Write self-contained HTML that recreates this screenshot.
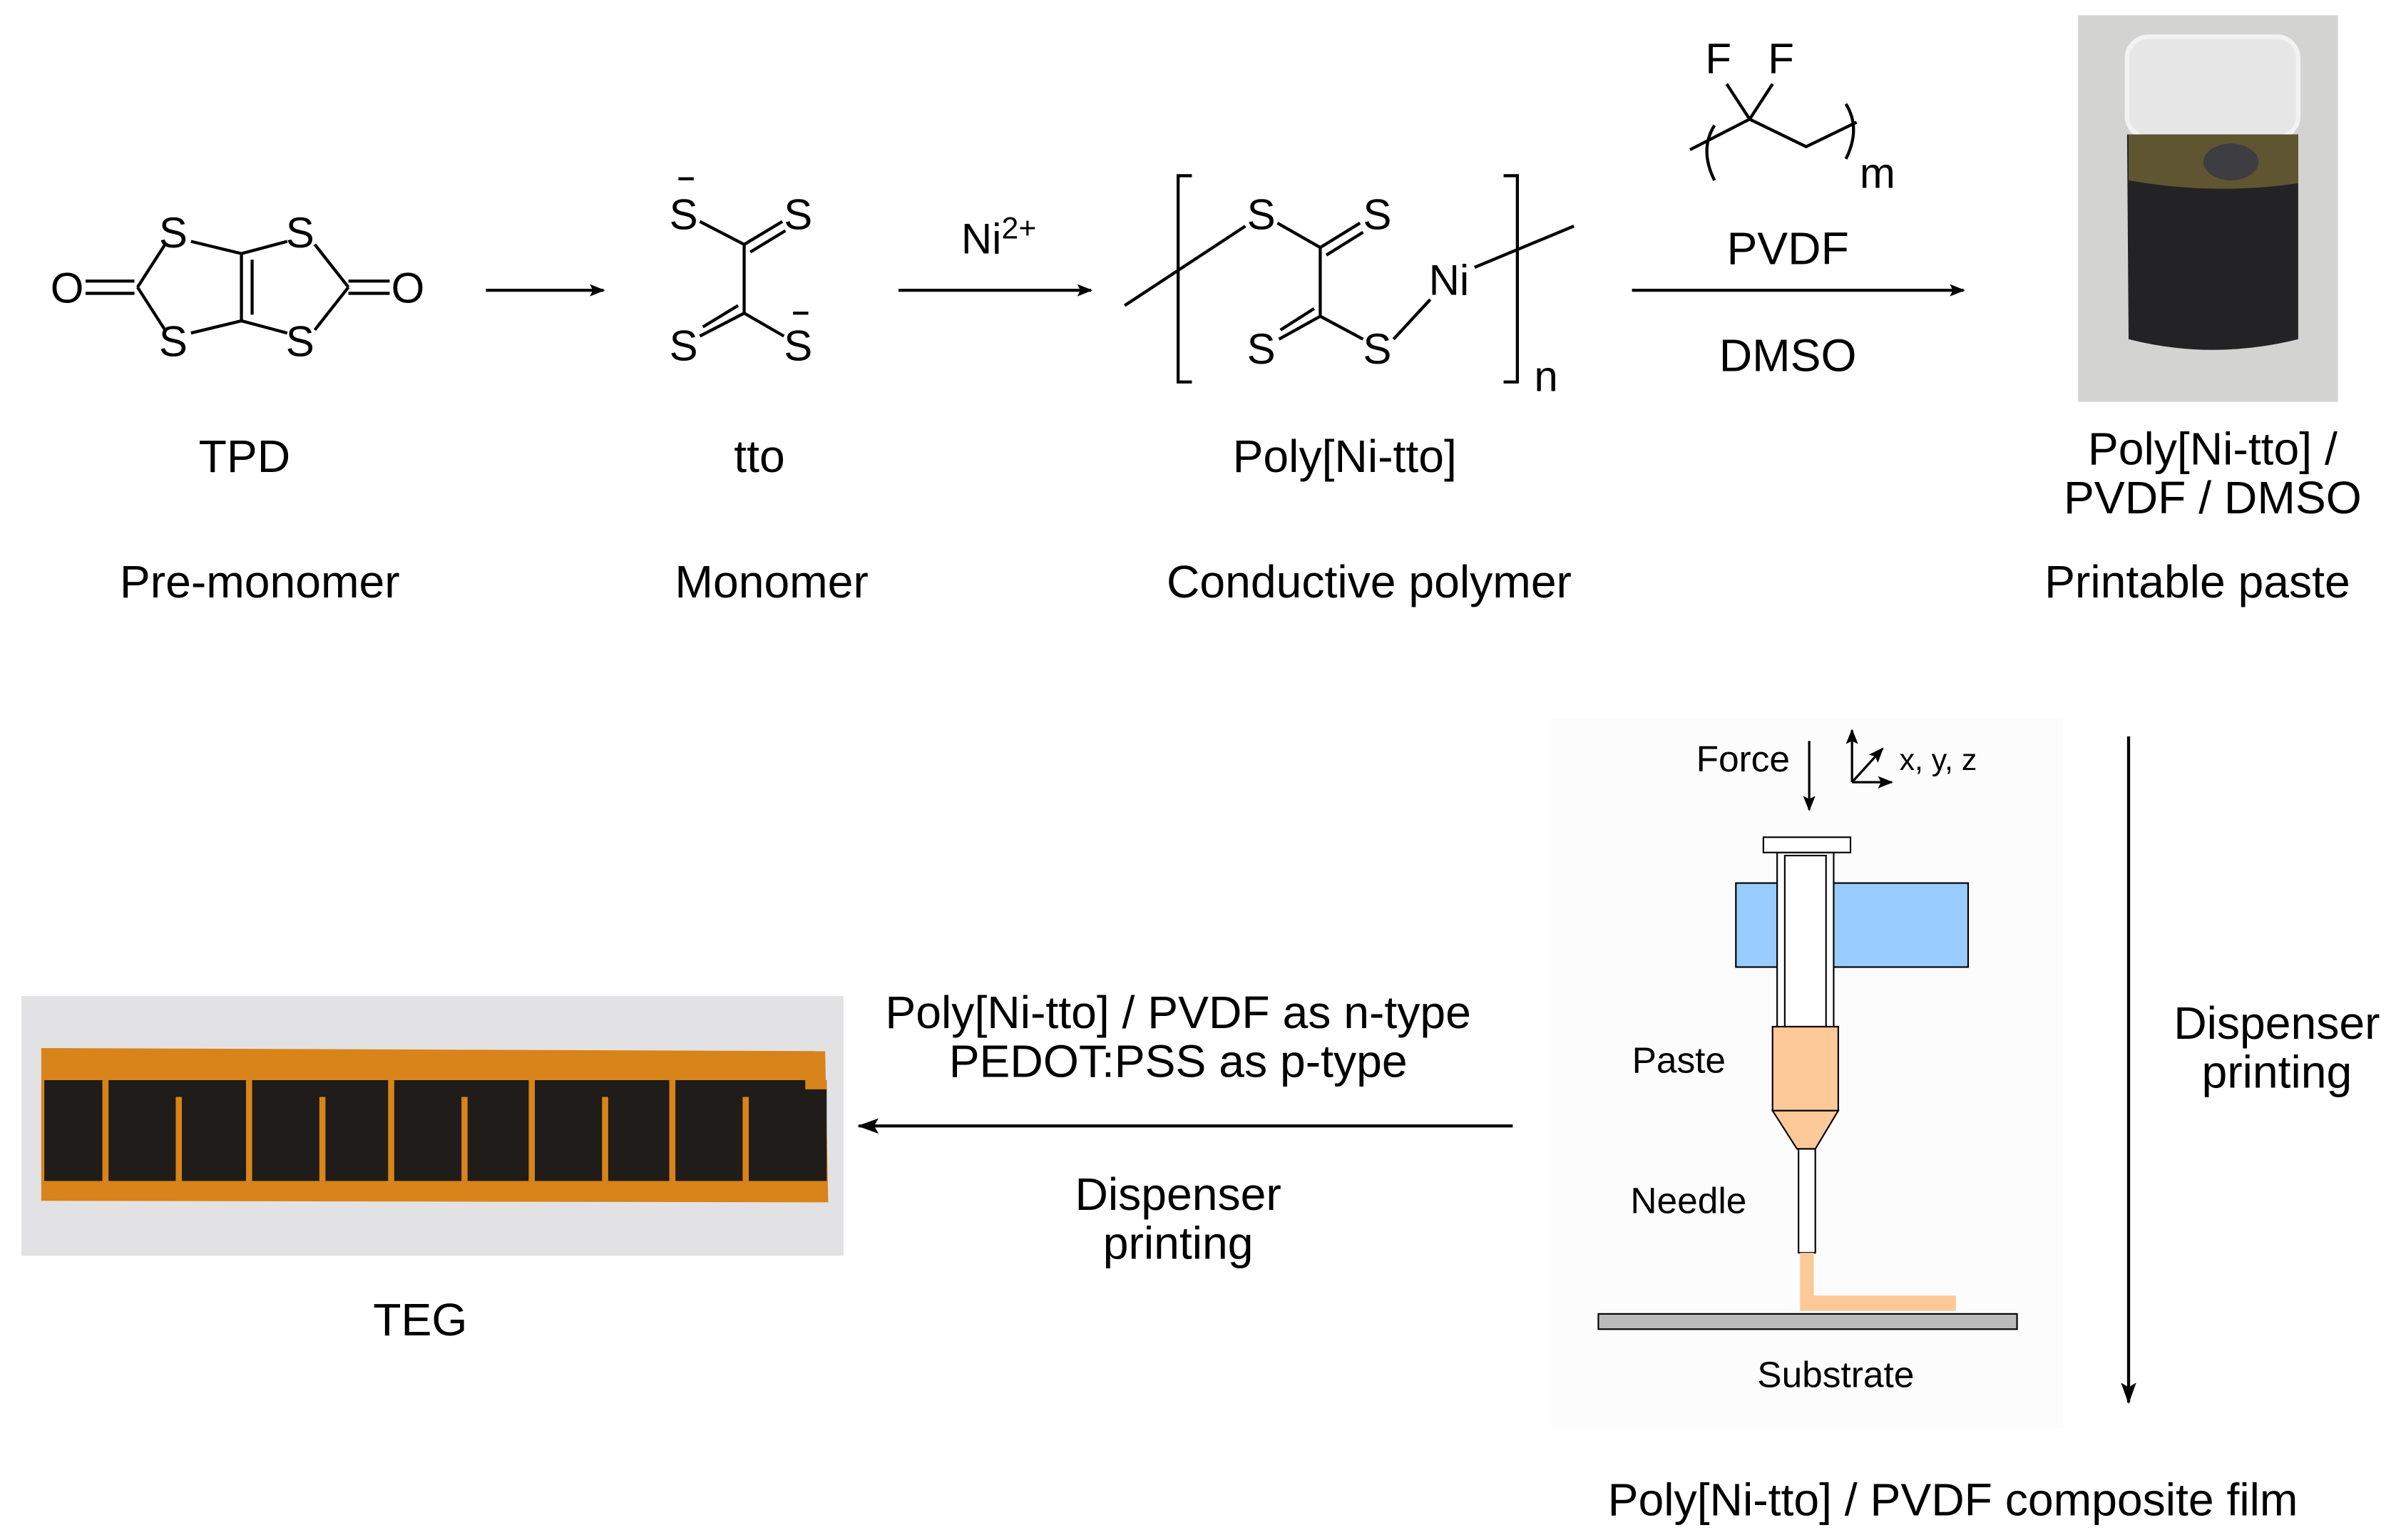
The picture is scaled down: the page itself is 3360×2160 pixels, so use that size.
<!DOCTYPE html>
<html><head><meta charset="utf-8"><style>
html,body{margin:0;padding:0;background:#fff}
svg{display:block}
text{font-family:"Liberation Sans",Arial,sans-serif;fill:#000}
</style></head><body>
<svg width="3360" height="2160" viewBox="0 0 1568 1008" preserveAspectRatio="none" xmlns="http://www.w3.org/2000/svg">
<defs>
<marker id="ah" markerWidth="10" markerHeight="8" refX="9" refY="4" orient="auto" markerUnits="userSpaceOnUse">
<path d="M0,0 L10,4 L0,8 L2,4 Z" fill="#000"/></marker>
<marker id="ah2" markerWidth="14" markerHeight="10" refX="13" refY="5" orient="auto" markerUnits="userSpaceOnUse">
<path d="M0,0 L14,5 L0,10 L3,5 Z" fill="#000"/></marker>
</defs>
<g stroke="#000" stroke-width="2" fill="none">
<line x1="56" y1="184" x2="88" y2="184"/><line x1="56" y1="192" x2="88" y2="192"/>
<line x1="90" y1="188" x2="108" y2="160"/><line x1="90" y1="188" x2="108" y2="216"/>
<line x1="125" y1="158" x2="158" y2="166"/><line x1="125" y1="218" x2="158" y2="210"/>
<line x1="158" y1="166" x2="158" y2="210"/><line x1="165" y1="170" x2="165" y2="206"/>
<line x1="158" y1="166" x2="188" y2="158"/><line x1="158" y1="210" x2="188" y2="218"/>
<line x1="206" y1="160" x2="228" y2="188"/><line x1="206" y1="216" x2="228" y2="188"/>
<line x1="228" y1="184" x2="255" y2="184"/><line x1="228" y1="192" x2="255" y2="192"/>
<line x1="318" y1="190" x2="395" y2="190" marker-end="url(#ah)"/>
<line x1="588" y1="190" x2="714" y2="190" marker-end="url(#ah)"/>
<line x1="1068" y1="190" x2="1285" y2="190" marker-end="url(#ah)"/>
<line x1="458" y1="145" x2="487" y2="160"/><line x1="487" y1="160" x2="512" y2="145"/><line x1="491" y1="165" x2="514" y2="151"/>
<line x1="487" y1="160" x2="487" y2="205"/>
<line x1="487" y1="205" x2="458" y2="220"/><line x1="483" y1="200" x2="460" y2="214"/>
<line x1="487" y1="205" x2="513" y2="220"/>
<line x1="444" y1="117" x2="454" y2="117"/><line x1="519" y1="205" x2="529" y2="205"/>
<polyline points="780,115 771,115 771,250 780,250"/>
<polyline points="984,115 993,115 993,250 984,250"/>
<line x1="736" y1="200" x2="815" y2="148"/>
<line x1="836" y1="146" x2="864" y2="162"/><line x1="864" y1="162" x2="890" y2="146"/><line x1="868" y1="167" x2="892" y2="152"/>
<line x1="864" y1="162" x2="864" y2="207"/>
<line x1="864" y1="207" x2="837" y2="222"/><line x1="860" y1="202" x2="838" y2="216"/>
<line x1="864" y1="207" x2="892" y2="222"/>
<line x1="912" y1="222" x2="936" y2="196"/>
<line x1="965" y1="175" x2="1030" y2="148"/>
<path d="M1122,82 Q1112,98 1122,118"/><path d="M1208,68 Q1218,84 1208,104"/>
<polyline points="1106,98 1145,78 1182,96 1215,80"/>
<line x1="1145" y1="78" x2="1130" y2="55"/><line x1="1145" y1="78" x2="1160" y2="55"/>
<line x1="1393" y1="482" x2="1393" y2="918" marker-end="url(#ah2)"/>
<line x1="990" y1="737" x2="562" y2="737" marker-end="url(#ah2)"/>
</g>
<g font-size="28">
<text x="33" y="198">O</text><text x="104" y="162">S</text><text x="104" y="233">S</text>
<text x="187" y="162">S</text><text x="187" y="233">S</text><text x="256" y="198">O</text>
<text x="438" y="150">S</text><text x="513" y="150">S</text><text x="438" y="236">S</text><text x="513" y="236">S</text>
<text x="629" y="166">Ni<tspan font-size="20" dy="-10">2+</tspan></text>
<text x="816" y="150">S</text><text x="892" y="150">S</text><text x="816" y="238">S</text><text x="892" y="238">S</text>
<text x="935" y="193">Ni</text><text x="1004" y="256">n</text>
<text x="1116" y="48">F</text><text x="1157" y="48">F</text><text x="1217" y="123">m</text>
</g>
<g font-size="30">
<text x="1170" y="173" text-anchor="middle">PVDF</text>
<text x="1170" y="243" text-anchor="middle">DMSO</text>
<text x="160" y="309" text-anchor="middle">TPD</text>
<text x="497" y="309" text-anchor="middle">tto</text>
<text x="880" y="309" text-anchor="middle">Poly[Ni-tto]</text>
<text x="1448" y="304" text-anchor="middle">Poly[Ni-tto] /</text>
<text x="1448" y="336" text-anchor="middle">PVDF / DMSO</text>
<text x="170" y="391" text-anchor="middle">Pre-monomer</text>
<text x="505" y="391" text-anchor="middle">Monomer</text>
<text x="896" y="391" text-anchor="middle">Conductive polymer</text>
<text x="1438" y="391" text-anchor="middle">Printable paste</text>
<text x="1490" y="680" text-anchor="middle">Dispenser</text>
<text x="1490" y="712" text-anchor="middle">printing</text>
<text x="771" y="673" text-anchor="middle">Poly[Ni-tto] / PVDF as n-type</text>
<text x="771" y="705" text-anchor="middle">PEDOT:PSS as p-type</text>
<text x="771" y="792" text-anchor="middle">Dispenser</text>
<text x="771" y="824" text-anchor="middle">printing</text>
<text x="275" y="874" text-anchor="middle">TEG</text>
<text x="1278" y="992" text-anchor="middle">Poly[Ni-tto] / PVDF composite film</text>
</g>
<!-- jar photo -->
<rect x="1360" y="10" width="170" height="253" fill="#d3d3d1"/>
<rect x="1392" y="24" width="112" height="66" rx="14" fill="#e6e6e6" stroke="#f2f2f2" stroke-width="3"/>
<path d="M1392,88 L1504,88 L1504,222 Q1448,236 1393,222 Z" fill="#232326"/>
<path d="M1393,88 L1504,88 L1504,120 Q1448,128 1393,118 Z" fill="#5f5530"/>
<ellipse cx="1460" cy="106" rx="18" ry="12" fill="#3d3d42"/>
<!-- dispenser schematic -->
<rect x="1015" y="470" width="335" height="465" fill="#fcfcfc"/>
<line x1="1184" y1="485" x2="1184" y2="530" stroke="#000" stroke-width="1.5" marker-end="url(#ah)"/>
<g stroke="#000" stroke-width="1.5"><line x1="1212" y1="512" x2="1212" y2="478" marker-end="url(#ah)"/><line x1="1212" y1="512" x2="1238" y2="512" marker-end="url(#ah)"/><line x1="1212" y1="512" x2="1232" y2="490" marker-end="url(#ah)"/></g>
<g font-size="24">
<text x="1110" y="505" font-family="DejaVu Sans">Force</text>
<text x="1243" y="504" font-size="20" font-family="DejaVu Sans">x, y, z</text>
<text x="1068" y="702" font-family="DejaVu Sans">Paste</text>
<text x="1067" y="794" font-family="DejaVu Sans">Needle</text>
<text x="1150" y="908" font-family="DejaVu Sans">Substrate</text>
</g>
<rect x="1136" y="578" width="152" height="55" fill="#99ccff" stroke="#000" stroke-width="1"/>
<rect x="1163" y="558" width="37" height="169" fill="#fff" stroke="#000" stroke-width="1"/>
<rect x="1168" y="560" width="27" height="112" fill="#fff" stroke="#000" stroke-width="1"/>
<rect x="1154" y="548" width="57" height="10" fill="#fff" stroke="#000" stroke-width="1"/>
<rect x="1160" y="672" width="43" height="55" fill="#fdc998" stroke="#000" stroke-width="1"/>
<path d="M1160,727 L1203,727 L1188,752 L1176,752 Z" fill="#fdc998" stroke="#000" stroke-width="1"/>
<rect x="1177" y="752" width="11" height="68" fill="#fff" stroke="#000" stroke-width="1"/>
<path d="M1178,820 L1187,820 L1187,848 L1280,848 L1280,858 L1178,858 Z" fill="#fdc998"/>
<rect x="1046" y="860" width="274" height="10" fill="#bbb" stroke="#000" stroke-width="1"/>
<!-- TEG photo -->
<rect x="14" y="652" width="538" height="170" fill="#e2e2e4"/>
<path d="M27,686 L540,688 L542,787 L27,786 Z" fill="#d8841a"/>
<rect x="29" y="707" width="512" height="66" fill="#1f1c1a"/>
<g fill="#d8841a">
<rect x="67" y="707" width="4" height="68"/><rect x="161" y="707" width="4" height="68"/>
<rect x="254" y="707" width="4" height="68"/><rect x="346" y="707" width="4" height="68"/>
<rect x="438" y="707" width="4" height="68"/>
<rect x="115" y="718" width="4" height="55"/><rect x="209" y="718" width="4" height="55"/>
<rect x="302" y="718" width="4" height="55"/><rect x="394" y="718" width="4" height="55"/>
<rect x="486" y="718" width="4" height="55"/>
<rect x="527" y="707" width="14" height="6"/>
</g>
</svg>
</body></html>
